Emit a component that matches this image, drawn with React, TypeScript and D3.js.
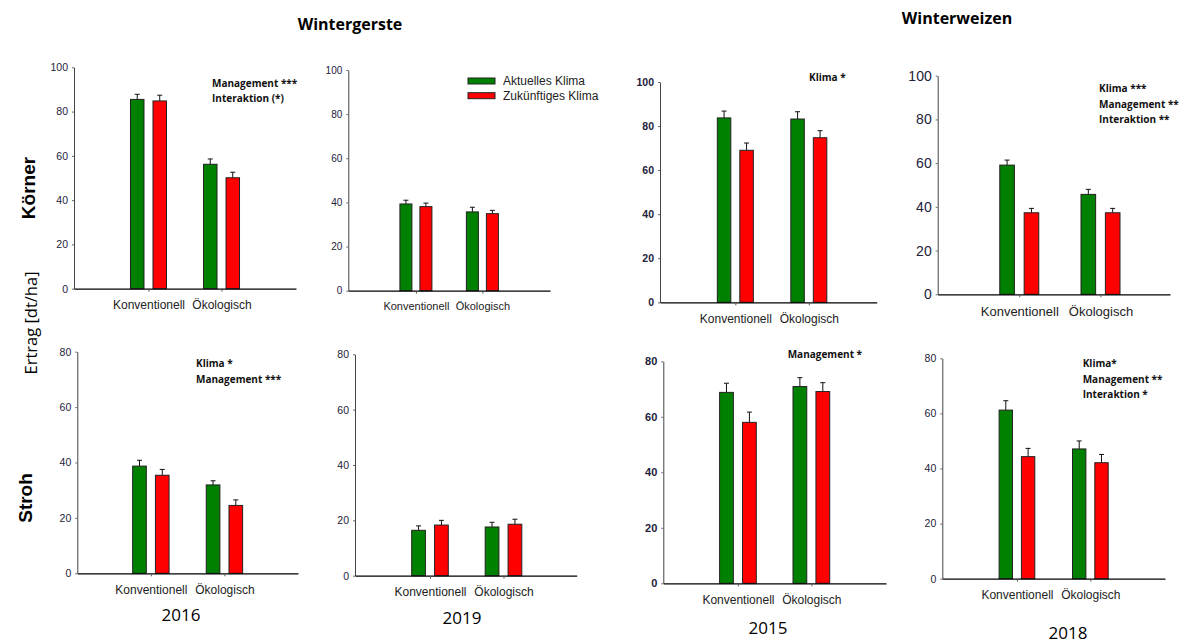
import * as d3 from "d3";
import React, { useEffect, useRef } from "react";

// Kategorien und Serien
const groups = ["Konventionell", "Ökologisch"];
const series = ["Aktuelles Klima", "Zukünftiges Klima"];
const seriesColors = ["#008000", "#ff0000"];

// Panels: Gerste Körner 2016, Gerste Körner 2019, Weizen Körner 2015, Weizen Körner 2018,
// dann Stroh in derselben Reihenfolge
const aktuellMean = [
  [85.5, 56.2],
  [39.3, 35.7],
  [83.7, 83.2],
  [59.1, 45.7],
  [38.7, 31.9],
  [16.4, 17.6],
  [68.8, 70.9],
  [61.2, 47.1],
];
const aktuellErr = [
  [2.3, 2.4],
  [1.7, 2.1],
  [3.1, 3.3],
  [2.3, 2.3],
  [2.1, 1.5],
  [1.6, 1.7],
  [3.3, 3.2],
  [3.4, 2.9],
];
const zukunftMean = [
  [84.8, 50.1],
  [38.1, 34.9],
  [69.0, 74.7],
  [37.3, 37.3],
  [35.4, 24.5],
  [18.3, 18.6],
  [58.0, 69.1],
  [44.3, 42.1],
];
const zukunftErr = [
  [2.6, 2.5],
  [1.6, 1.5],
  [3.3, 3.2],
  [2.0, 2.0],
  [2.1, 2.0],
  [1.7, 1.8],
  [3.7, 3.2],
  [3.0, 3.0],
];
const yMax = [100, 100, 100, 100, 80, 80, 80, 80];
const notes = [
  ["Management ***", "Interaktion (*)"],
  [],
  ["Klima *"],
  ["Klima ***", "Management **", "Interaktion **"],
  ["Klima *", "Management ***"],
  [],
  ["Management *"],
  ["Klima*", "Management **", "Interaktion *"],
];
const years = ["2016", "2019", "2015", "2018"];
const cropTitles = ["Wintergerste", "Winterweizen"];
const rowLabels = ["Körner", "Stroh"];
const yLabel = "Ertrag [dt/ha]";

// Lage der Panels auf der Seite
const layout = [
  { x0: 74, x1: 296, top: 67.3, bottom: 288.7, pad: 1.02, align: 0.5, gw: 36, tick: 10.5, bold: false, cat: 12, note: [212, 86.5] },
  { x0: 348.3, x1: 550, top: 70, bottom: 290.7, pad: 1.017, align: 0.5, gw: 32, tick: 10, bold: false, cat: 11, note: [0, 0] },
  { x0: 660, x1: 876.7, top: 82, bottom: 302.3, pad: 0.974, align: 0.526, gw: 36, tick: 10.5, bold: true, cat: 12, note: [809, 80.5] },
  { x0: 937.7, x1: 1170, top: 75.7, bottom: 294.3, pad: 0.93, align: 0.54, gw: 39, tick: 14, bold: false, cat: 13, note: [1099, 92] },
  { x0: 77.3, x1: 298, top: 351.7, bottom: 573.3, pad: 1.0, align: 0.5, gw: 36.4, tick: 10.5, bold: false, cat: 12, note: [196, 367] },
  { x0: 355, x1: 576.7, top: 354.3, bottom: 575.7, pad: 1.008, align: 0.506, gw: 36.6, tick: 10.5, bold: false, cat: 12, note: [0, 0] },
  { x0: 663.3, x1: 886, top: 361.3, bottom: 583.3, pad: 1.017, align: 0.5, gw: 36.7, tick: 11, bold: true, cat: 12, note: [787.7, 358] },
  { x0: 942.3, x1: 1165, top: 358.3, bottom: 578.7, pad: 1.017, align: 0.5, gw: 35.7, tick: 10.5, bold: false, cat: 12, note: [1082.7, 367] },
];
const yearPos = [
  [181, 621],
  [462, 624],
  [768, 634],
  [1068, 639],
];

const W = 1187;
const H = 643;
const tickColor = "#22223a";

export default function App() {
  const svgRef = useRef<SVGSVGElement>(null);

  useEffect(() => {
    const svg = d3.select(svgRef.current);
    svg.selectAll("*").remove();
    svg.append("rect").attr("width", W).attr("height", H).attr("fill", "#fff");

    layout.forEach((L, p) => {
      const g = svg.append("g");
      const x = d3.scalePoint<string>().domain(groups).range([L.x0, L.x1]).padding(L.pad).align(L.align);
      const xs = d3.scaleBand<string>().domain(series).range([-L.gw / 2, L.gw / 2]).paddingInner(0.4);
      const y = d3.scaleLinear().domain([0, yMax[p]]).range([L.bottom, L.top]);

      // y-Achse
      const yAxis = g
        .append("g")
        .attr("transform", `translate(${L.x0},0)`)
        .call(d3.axisLeft(y).ticks(yMax[p] / 20).tickSize(2).tickSizeOuter(0).tickPadding(4));
      yAxis.select(".domain").attr("stroke", "#444");
      yAxis.selectAll(".tick line").attr("stroke", "#666");
      yAxis
        .selectAll(".tick text")
        .attr("fill", tickColor)
        .attr("font-family", "'Liberation Sans', Arial, sans-serif")
        .attr("font-size", L.tick)
        .attr("font-weight", L.bold ? "bold" : "normal");

      // Balken
      const rows = groups.map((grp, i) => [
        { grp, s: series[0], v: aktuellMean[p][i], e: aktuellErr[p][i], c: seriesColors[0] },
        { grp, s: series[1], v: zukunftMean[p][i], e: zukunftErr[p][i], c: seriesColors[1] },
      ]).flat();

      const cx = (d: { grp: string; s: string }) => (x(d.grp) ?? 0) + (xs(d.s) ?? 0) + xs.bandwidth() / 2;

      // Fehlerbalken (nur nach oben)
      g.selectAll("line.err")
        .data(rows)
        .join("line")
        .attr("x1", cx)
        .attr("x2", cx)
        .attr("y1", (d) => y(d.v))
        .attr("y2", (d) => y(d.v + d.e))
        .attr("stroke", "#111")
        .attr("stroke-width", 1);
      g.selectAll("line.cap")
        .data(rows)
        .join("line")
        .attr("x1", (d) => cx(d) - 2.5)
        .attr("x2", (d) => cx(d) + 2.5)
        .attr("y1", (d) => y(d.v + d.e))
        .attr("y2", (d) => y(d.v + d.e))
        .attr("stroke", "#111")
        .attr("stroke-width", 1);

      g.selectAll("rect.bar")
        .data(rows)
        .join("rect")
        .attr("x", (d) => (x(d.grp) ?? 0) + (xs(d.s) ?? 0))
        .attr("width", xs.bandwidth())
        .attr("y", (d) => y(d.v))
        .attr("height", (d) => y(0) - y(d.v))
        .attr("fill", (d) => d.c)
        .attr("stroke", "#222")
        .attr("stroke-width", 1);

      // x-Achse
      const xAxis = g
        .append("g")
        .attr("transform", `translate(0,${L.bottom})`)
        .call(d3.axisBottom(x).tickSize(3).tickSizeOuter(0).tickPadding(9));
      xAxis.select(".domain").attr("stroke", "#000").attr("stroke-width", 1.2);
      xAxis.selectAll(".tick line").attr("stroke", "#555");
      xAxis
        .selectAll(".tick text")
        .attr("fill", "#222")
        .attr("font-family", "'Liberation Sans', Arial, sans-serif")
        .attr("font-size", L.cat);

      // Signifikanzen
      g.selectAll("text.note")
        .data(notes[p])
        .join("text")
        .attr("x", L.note[0])
        .attr("y", (_d, i) => L.note[1] + i * 15.5)
        .attr("font-family", "'Open Sans', sans-serif")
        .attr("font-weight", "bold")
        .attr("font-size", 10)
        .attr("fill", "#111")
        .text((d) => d);
    });

    // Legende
    const leg = svg.append("g");
    series.forEach((s, i) => {
      const yy = 81 + i * 14.7;
      leg.append("rect").attr("x", 468).attr("y", yy - 3).attr("width", 27).attr("height", 6)
        .attr("fill", seriesColors[i]).attr("stroke", "#222").attr("stroke-width", 1);
      leg.append("text").attr("x", 503).attr("y", yy + 4.3).text(s)
        .attr("font-family", "'Liberation Sans', Arial, sans-serif").attr("font-size", 12).attr("fill", "#222");
    });

    // Überschriften
    const titles = [
      [350, 30],
      [957, 24],
    ];
    cropTitles.forEach((t, i) => {
      svg.append("text").attr("x", titles[i][0]).attr("y", titles[i][1]).attr("text-anchor", "middle")
        .attr("font-family", "'Open Sans', sans-serif").attr("font-weight", "bold").attr("font-size", 16)
        .attr("fill", "#000").text(t);
    });

    // Zeilenbeschriftungen
    const rowPos = [
      [35, 188],
      [32, 498],
    ];
    rowLabels.forEach((t, i) => {
      svg.append("text").attr("transform", `translate(${rowPos[i][0]},${rowPos[i][1]}) rotate(-90)`)
        .attr("text-anchor", "middle").attr("font-family", "'Liberation Sans', Arial, sans-serif")
        .attr("font-weight", "bold").attr("font-size", 19).attr("fill", "#000").text(t);
    });
    svg.append("text").attr("transform", `translate(37,323) rotate(-90)`)
      .attr("text-anchor", "middle").attr("font-family", "'Open Sans', sans-serif")
      .attr("font-size", 16.5).attr("fill", "#000").text(yLabel);

    // Jahre
    years.forEach((t, i) => {
      svg.append("text").attr("x", yearPos[i][0]).attr("y", yearPos[i][1]).attr("text-anchor", "middle")
        .attr("font-family", "'Open Sans', sans-serif").attr("font-size", 17).attr("fill", "#000").text(t);
    });
  }, []);

  return (
    <svg
      ref={svgRef}
      width={W}
      height={H}
      style={{ position: "absolute", left: 0, top: 0 }}
    />
  );
}
